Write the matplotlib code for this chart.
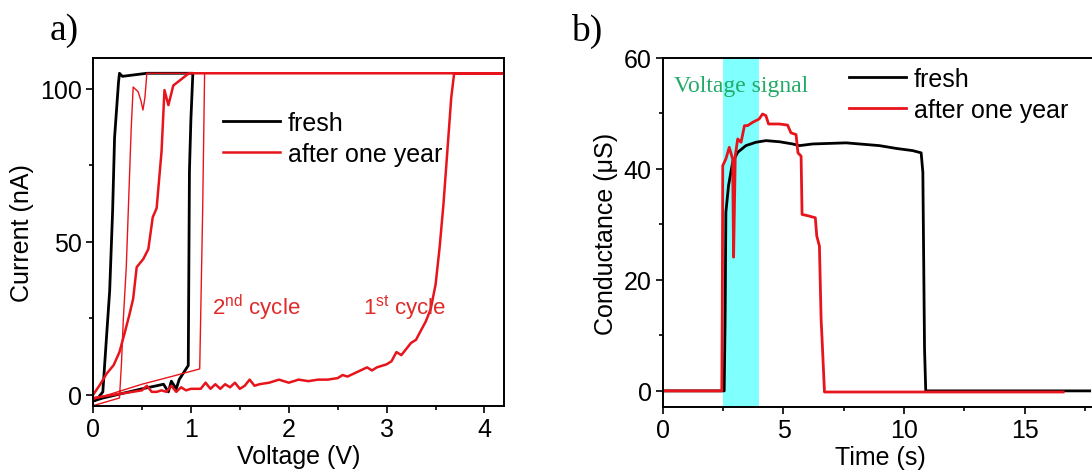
import matplotlib
matplotlib.use("Agg")
import matplotlib.pyplot as plt
from matplotlib.ticker import MultipleLocator

plt.rcParams["font.family"] = ["Liberation Sans", "DejaVu Sans"]
plt.rcParams["mathtext.fontset"] = "custom"
plt.rcParams["mathtext.rm"] = "Liberation Sans"
plt.rcParams["font.size"] = 18

RED = "#e8141c"

# ---- panel a: I-V sweeps ----
fresh_v = [0.0, 0.05, 0.1, 0.14, 0.17, 0.2, 0.22, 0.26, 0.27, 0.3, 0.55, 1.02,
           1.0, 0.985, 0.973, 0.94, 0.88, 0.85, 0.8, 0.77, 0.72, 0.65, 0.5, 0.3, 0.1, 0.0]
fresh_i = [-2.0, -1.0, 1.0, 20, 34, 60, 84, 102, 105, 104, 105, 105,
           90, 73, 9.6, 8.0, 5.0, 2.0, 4.5, 1.0, 3.5, 3.0, 2.0, 0.5, -1.0, -2.0]

cycle2_v = [0.0, 0.27, 0.29, 0.31, 0.34, 0.39, 0.41, 0.46, 0.49, 0.51, 0.53, 0.55,
            1.14, 1.12, 1.09, 0.8, 0.5, 0.3, 0.0]
cycle2_i = [-3.5, -1.0, 10, 25, 42, 87, 100.5, 99, 96, 93, 97, 105,
            105, 60, 8.5, 6.0, 3.5, 1.5, -1.5]

cycle1_v = [0.0, 0.1, 0.2, 0.3, 0.4, 0.5, 0.55, 0.6, 0.65, 0.7, 0.75, 0.8, 0.85,
            0.9, 0.95, 1.0, 1.1, 1.15, 1.2, 1.25, 1.3, 1.35, 1.4, 1.45, 1.5, 1.55,
            1.6, 1.65, 1.7, 1.8, 1.9, 2.0, 2.1, 2.2, 2.3, 2.4, 2.5, 2.55, 2.6, 2.7,
            2.8, 2.85, 2.9, 3.0, 3.05, 3.1, 3.15, 3.2, 3.25, 3.3, 3.35, 3.4, 3.45,
            3.5, 3.54, 3.58, 3.61, 3.66, 3.69, 4.2,
            0.98, 0.82, 0.77, 0.73, 0.70, 0.65, 0.61, 0.565, 0.514, 0.446, 0.41,
            0.37, 0.326, 0.27, 0.21, 0.14, 0.07, 0.0]
cycle1_i = [-1.0, -0.5, 0.0, 0.5, 1.0, 1.5, 3.0, 1.0, 1.0, 1.5, 1.0, 3.0, 1.0,
            2.5, 1.5, 2.0, 2.0, 4.0, 2.0, 3.5, 2.0, 3.5, 2.5, 4.0, 2.0, 3.0,
            5.0, 3.0, 3.5, 4.0, 5.0, 4.0, 5.0, 4.5, 5.0, 5.0, 5.5, 6.5, 6.0, 7.5,
            9.0, 8.0, 9.0, 10.0, 11.0, 14.0, 13.0, 15.0, 17.0, 18.0, 21.0, 24.0, 28.0,
            36, 47.7, 62, 75, 97, 105, 105,
            105, 101, 94.6, 99.5, 79.5, 61, 58, 47.6, 44.4, 41.7, 31.4,
            26, 20.6, 14, 9.7, 7.0, 3.3, 0.0]

# ---- panel b: conductance vs time ----
fresh_t = [0.0, 2.54, 2.58, 2.61, 2.72, 2.89, 3.1, 3.44, 3.85, 4.27, 4.83, 5.38,
           5.66, 6.21, 7.6, 8.98, 9.67, 10.36, 10.71, 10.78, 10.85, 10.9, 17.7]
fresh_g = [0.0, 0.0, 13.6, 32.2, 37.0, 41.2, 43.0, 44.2, 44.8, 45.1, 44.9, 44.5,
           44.2, 44.5, 44.7, 44.2, 43.7, 43.3, 42.9, 39.4, 7.6, 0.0, 0.0]

aged_t = [0.0, 2.44, 2.46, 2.48, 2.61, 2.75, 2.89, 2.93, 3.0, 3.1, 3.24, 3.38,
          3.51, 3.72, 3.99, 4.13, 4.27, 4.38, 4.83, 5.17, 5.31, 5.52, 5.6, 5.73,
          5.77, 6.07, 6.32, 6.38, 6.49, 6.56, 6.6, 6.7, 16.6]
aged_g = [0.0, 0.0, 13.6, 40.6, 41.8, 43.9, 41.8, 24.1, 42.4, 45.4, 44.8, 47.8,
          47.8, 48.4, 49.0, 49.9, 49.6, 48.1, 48.1, 47.9, 46.5, 46.2, 42.9, 42.3,
          31.8, 31.5, 31.2, 27.9, 26.1, 12.9, 9.3, -0.2, -0.2]

signal_on, signal_off = 2.5, 4.0

fig = plt.figure(figsize=(10.92, 4.77), dpi=100)
ax1 = fig.add_axes([0.0852, 0.1468, 0.3764, 0.7296])
ax2 = fig.add_axes([0.6071, 0.1447, 0.3974, 0.7317])

for ax in (ax1, ax2):
    ax.tick_params(which="both", direction="out", width=1.2)
    ax.tick_params(which="major", length=5, pad=3)
    ax.tick_params(which="minor", length=3)
    for s in ax.spines.values():
        s.set_linewidth(1.4)

ax1.plot(fresh_v, fresh_i, color="black", lw=2.0, label="fresh")
ax1.plot(cycle2_v, cycle2_i, color=RED, lw=1.0)
ax1.plot(cycle1_v, cycle1_i, color=RED, lw=1.8, label="after one year")
ax1.set_xlim(0, 4.2)
ax1.set_ylim(-3.6, 110)
ax1.xaxis.set_major_locator(MultipleLocator(1))
ax1.xaxis.set_minor_locator(MultipleLocator(0.5))
ax1.yaxis.set_major_locator(MultipleLocator(50))
ax1.yaxis.set_minor_locator(MultipleLocator(25))
ax1.set_xlabel("Voltage (V)", labelpad=2)
ax1.set_ylabel("Current (nA)", labelpad=4)
ax1.legend(loc="upper left", bbox_to_anchor=(0.316, 0.848), frameon=False,
           handlelength=2.3, handletextpad=0.3, labelspacing=0.28, borderpad=0,
           borderaxespad=0, fontsize=18)
ax1.text(1.22, 26.5, r"2$^{\mathrm{nd}}$ cycle", color="#e02a2a", fontsize=16)
ax1.text(2.76, 26.5, r"1$^{\mathrm{st}}$ cycle", color="#e02a2a", fontsize=16)
ax1.text(-0.105, 1.08, "a)", transform=ax1.transAxes, fontsize=27,
         family="Liberation Serif", va="center")

ax2.axvspan(signal_on, signal_off, color="#80ffff", lw=0, zorder=0)
ax2.plot(fresh_t, fresh_g, color="black", lw=2.0, label="fresh")
ax2.plot(aged_t, aged_g, color=RED, lw=2.0, label="after one year")
ax2.set_xlim(0, 18)
ax2.set_ylim(-2.9, 60)
ax2.xaxis.set_major_locator(MultipleLocator(5))
ax2.xaxis.set_minor_locator(MultipleLocator(2.5))
ax2.yaxis.set_major_locator(MultipleLocator(20))
ax2.yaxis.set_minor_locator(MultipleLocator(10))
ax2.set_xlabel("Time (s)", labelpad=2)
ax2.set_ylabel("Conductance (\u03bcS)", labelpad=4)
ax2.legend(loc="upper left", bbox_to_anchor=(0.428, 0.974), frameon=False,
           handlelength=2.3, handletextpad=0.3, labelspacing=0.28, borderpad=0,
           borderaxespad=0, fontsize=18)
ax2.text(0.45, 55.1, "Voltage signal", color="#22aa66", fontsize=17,
         family="Liberation Serif", va="center")
ax2.text(-0.212, 1.08, "b)", transform=ax2.transAxes, fontsize=27,
         family="Liberation Serif", va="center")

fig.savefig("out.png", dpi=100)
